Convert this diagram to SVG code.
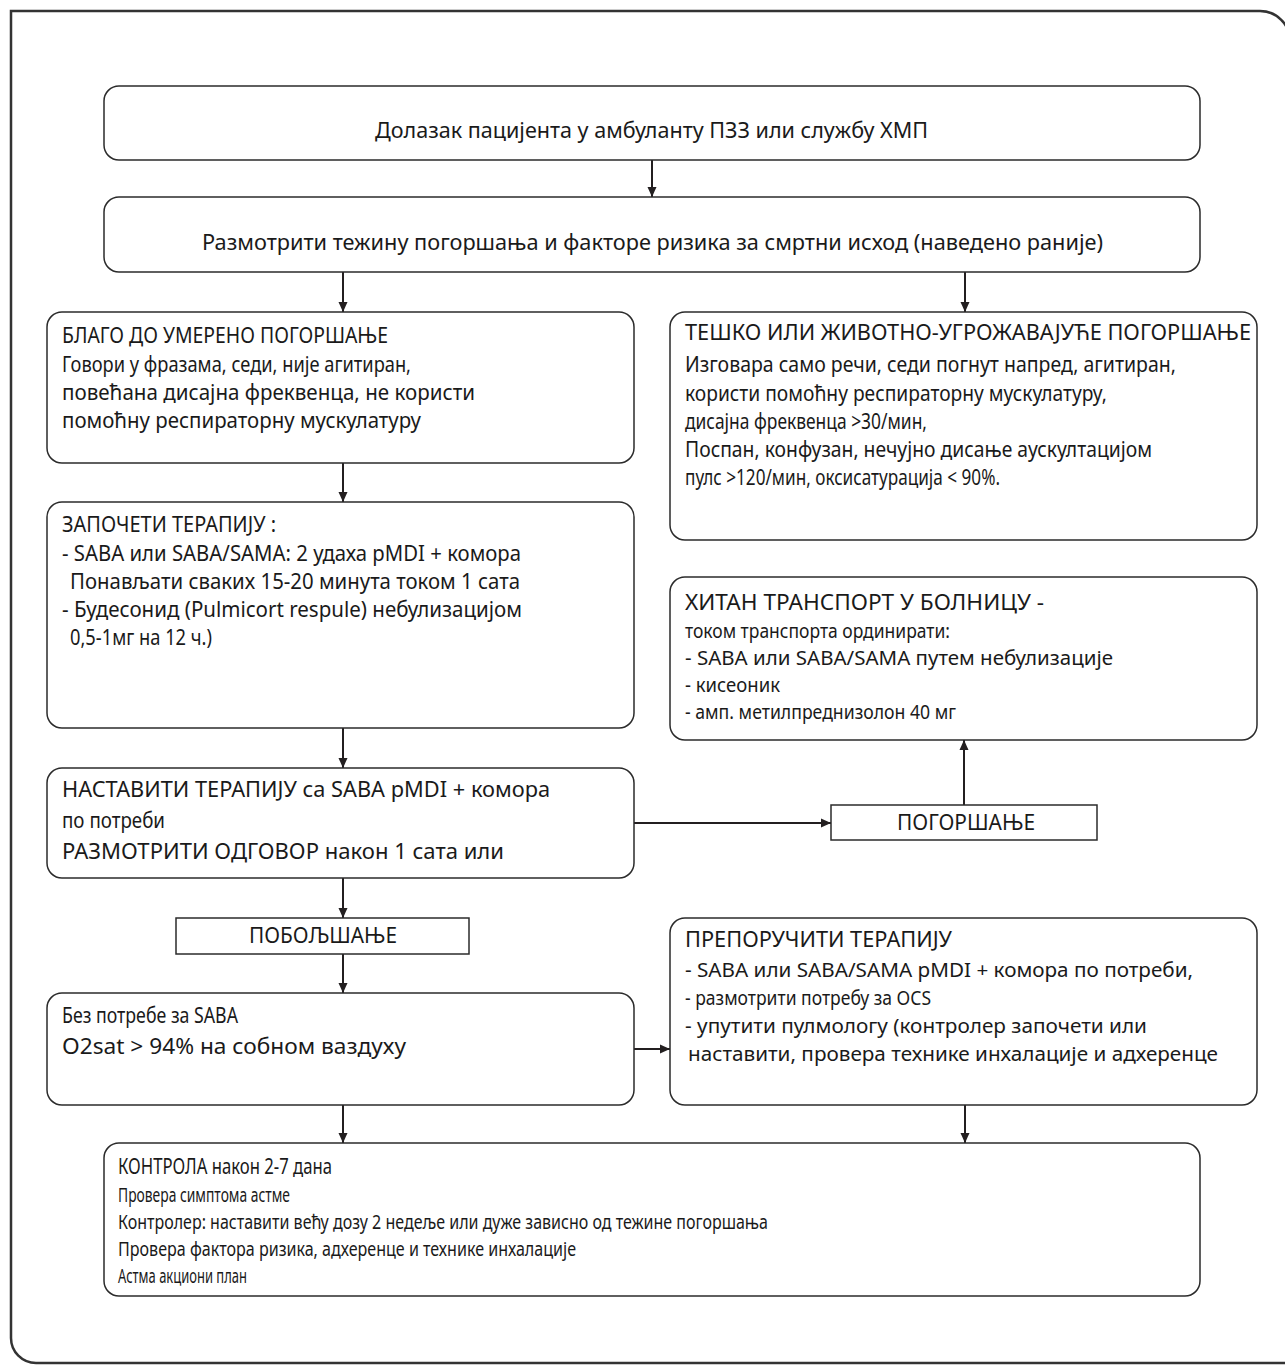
<svg xmlns="http://www.w3.org/2000/svg" width="1285" height="1365" viewBox="0 0 1285 1365">
  <style>
    .frame { fill: none; stroke: #333; stroke-width: 2.5; }
    .box { fill: #fff; stroke: #2b2b2b; stroke-width: 1.5; }
    .tag { fill: #fff; stroke: #2b2b2b; stroke-width: 1.5; }
    .t { font-family: "Noto Sans", "Open Sans", sans-serif; font-size: 22px; fill: #1a1a1a; }
    .s { font-family: "Noto Sans", "Open Sans", sans-serif; font-size: 20px; fill: #1a1a1a; }
    .edge { fill: none; stroke: #231f20; stroke-width: 2; }
  </style>
  <defs>
    <marker id="arrow" viewBox="0 0 10 10" refX="10" refY="5" markerWidth="10" markerHeight="10" markerUnits="userSpaceOnUse" orient="auto">
      <path d="M0,0.5 L10,5 L0,9.5 Z" fill="#231f20"/>
    </marker>
  </defs>
  <rect width="1285" height="1365" fill="#fff"/>

  <!-- outer frame -->
  <path class="frame" d="M1260,11 H11 V1338 A25,25 0 0 0 36,1363 H1290 M1260,11 A30,30 0 0 1 1290,41"/>

  <!-- connectors -->
  <g id="connectors">
    <path class="edge" d="M652,160 V197" marker-end="url(#arrow)"/>
    <path class="edge" d="M343,272 V312" marker-end="url(#arrow)"/>
    <path class="edge" d="M965,272 V312" marker-end="url(#arrow)"/>
    <path class="edge" d="M343,463 V502" marker-end="url(#arrow)"/>
    <path class="edge" d="M343,728 V768" marker-end="url(#arrow)"/>
    <path class="edge" d="M634,823 H831" marker-end="url(#arrow)"/>
    <path class="edge" d="M964,805 V740" marker-end="url(#arrow)"/>
    <path class="edge" d="M343,878 V918" marker-end="url(#arrow)"/>
    <path class="edge" d="M343,954 V993" marker-end="url(#arrow)"/>
    <path class="edge" d="M634,1049 H670" marker-end="url(#arrow)"/>
    <path class="edge" d="M343,1105 V1143" marker-end="url(#arrow)"/>
    <path class="edge" d="M965,1105 V1143" marker-end="url(#arrow)"/>
  </g>

  <g id="arrival">
    <rect class="box" x="104" y="86" width="1096" height="74" rx="15"/>
    <text class="t" x="375" y="138" textLength="553" lengthAdjust="spacingAndGlyphs">Долазак пацијента у амбуланту ПЗЗ или службу ХМП</text>
  </g>

  <g id="assess">
    <rect class="box" x="104" y="197" width="1096" height="75" rx="15"/>
    <text class="t" x="202" y="250" textLength="901" lengthAdjust="spacingAndGlyphs">Размотрити тежину погоршања и факторе ризика за смртни исход (наведено раније)</text>
  </g>

  <g id="mild">
    <rect class="box" x="47" y="312" width="587" height="151" rx="15"/>
    <text class="t" x="62" y="343" textLength="326" lengthAdjust="spacingAndGlyphs">БЛАГО ДО УМЕРЕНО ПОГОРШАЊЕ</text>
    <text class="t" x="62" y="372" textLength="349" lengthAdjust="spacingAndGlyphs">Говори у фразама, седи, није агитиран,</text>
    <text class="t" x="62" y="400" textLength="413" lengthAdjust="spacingAndGlyphs">повећана дисајна фреквенца, не користи</text>
    <text class="t" x="62" y="428" textLength="359" lengthAdjust="spacingAndGlyphs">помоћну респираторну мускулатуру</text>
  </g>

  <g id="severe">
    <rect class="box" x="670" y="312" width="587" height="228" rx="15"/>
    <text class="t" x="685" y="340" textLength="566" lengthAdjust="spacingAndGlyphs">ТЕШКО ИЛИ ЖИВОТНО-УГРОЖАВАЈУЋЕ ПОГОРШАЊЕ</text>
    <text class="t" x="685" y="372" textLength="491" lengthAdjust="spacingAndGlyphs">Изговара само речи, седи погнут напред, агитиран,</text>
    <text class="t" x="685" y="401" textLength="422" lengthAdjust="spacingAndGlyphs">користи помоћну респираторну мускулатуру,</text>
    <text class="t" x="685" y="429" textLength="242" lengthAdjust="spacingAndGlyphs">дисајна фреквенца &gt;30/мин,</text>
    <text class="t" x="685" y="457" textLength="467" lengthAdjust="spacingAndGlyphs">Поспан, конфузан, нечујно дисање аускултацијом</text>
    <text class="t" x="685" y="485" textLength="315" lengthAdjust="spacingAndGlyphs">пулс &gt;120/мин, оксисатурација &lt; 90%.</text>
  </g>

  <g id="start-therapy">
    <rect class="box" x="47" y="502" width="587" height="226" rx="15"/>
    <text class="t" x="62" y="532" textLength="214" lengthAdjust="spacingAndGlyphs">ЗАПОЧЕТИ ТЕРАПИЈУ :</text>
    <text class="t" x="62" y="561" textLength="459" lengthAdjust="spacingAndGlyphs">- SABA или SABA/SAMA: 2 удаха pMDI + комора</text>
    <text class="t" x="70" y="589" textLength="450" lengthAdjust="spacingAndGlyphs">Понављати сваких 15-20 минута током 1 сата</text>
    <text class="t" x="62" y="617" textLength="460" lengthAdjust="spacingAndGlyphs">- Будесонид (Pulmicort respule) небулизацијом</text>
    <text class="t" x="70" y="645" textLength="142" lengthAdjust="spacingAndGlyphs">0,5-1мг на 12 ч.)</text>
  </g>

  <g id="transport">
    <rect class="box" x="670" y="577" width="587" height="163" rx="15"/>
    <text class="t" x="685" y="610" textLength="359" lengthAdjust="spacingAndGlyphs">ХИТАН ТРАНСПОРТ У БОЛНИЦУ -</text>
    <text class="s" x="685" y="638" textLength="265" lengthAdjust="spacingAndGlyphs">током транспорта ординирати:</text>
    <text class="s" x="685" y="665" textLength="428" lengthAdjust="spacingAndGlyphs">- SABA или SABA/SAMA путем небулизације</text>
    <text class="s" x="685" y="692" textLength="95" lengthAdjust="spacingAndGlyphs">- кисеоник</text>
    <text class="s" x="685" y="719" textLength="271" lengthAdjust="spacingAndGlyphs">- амп. метилпреднизолон 40 мг</text>
  </g>

  <g id="continue">
    <rect class="box" x="47" y="768" width="587" height="110" rx="15"/>
    <text class="t" x="62" y="797" textLength="488" lengthAdjust="spacingAndGlyphs">НАСТАВИТИ ТЕРАПИЈУ са SABA pMDI + комора</text>
    <text class="t" x="62" y="828" textLength="103" lengthAdjust="spacingAndGlyphs">по потреби</text>
    <text class="t" x="62" y="859" textLength="442" lengthAdjust="spacingAndGlyphs">РАЗМОТРИТИ ОДГОВОР након 1 сата или</text>
  </g>

  <g id="worse">
    <rect class="tag" x="831" y="805" width="266" height="35"/>
    <text class="t" x="897" y="830" textLength="138" lengthAdjust="spacingAndGlyphs">ПОГОРШАЊЕ</text>
  </g>

  <g id="better">
    <rect class="tag" x="176" y="918" width="293" height="36"/>
    <text class="t" x="249" y="943" textLength="148" lengthAdjust="spacingAndGlyphs">ПОБОЉШАЊЕ</text>
  </g>

  <g id="no-saba">
    <rect class="box" x="47" y="993" width="587" height="112" rx="15"/>
    <text class="t" x="62" y="1023" textLength="176" lengthAdjust="spacingAndGlyphs">Без потребе за SABA</text>
    <text class="t" x="62" y="1054" textLength="344" lengthAdjust="spacingAndGlyphs">O2sat &gt; 94% на собном ваздуху</text>
  </g>

  <g id="recommend">
    <rect class="box" x="670" y="918" width="587" height="187" rx="15"/>
    <text class="t" x="685" y="947" textLength="267" lengthAdjust="spacingAndGlyphs">ПРЕПОРУЧИТИ ТЕРАПИЈУ</text>
    <text class="s" x="685" y="977" textLength="508" lengthAdjust="spacingAndGlyphs">- SABA или SABA/SAMA pMDI + комора по потреби,</text>
    <text class="s" x="685" y="1005" textLength="246" lengthAdjust="spacingAndGlyphs">- размотрити потребу за OCS</text>
    <text class="s" x="685" y="1033" textLength="462" lengthAdjust="spacingAndGlyphs">- упутити пулмологу (контролер започети или</text>
    <text class="s" x="688" y="1061" textLength="530" lengthAdjust="spacingAndGlyphs">наставити, провера технике инхалације и адхеренце</text>
  </g>

  <g id="follow-up">
    <rect class="box" x="104" y="1143" width="1096" height="153" rx="15"/>
    <text class="t" x="118" y="1174" textLength="214" lengthAdjust="spacingAndGlyphs">КОНТРОЛА након 2-7 дана</text>
    <text class="s" x="118" y="1202" textLength="172" lengthAdjust="spacingAndGlyphs">Провера симптома астме</text>
    <text class="s" x="118" y="1229" textLength="650" lengthAdjust="spacingAndGlyphs">Контролер: наставити већу дозу 2 недеље или дуже зависно од тежине погоршања</text>
    <text class="s" x="118" y="1256" textLength="458" lengthAdjust="spacingAndGlyphs">Провера фактора ризика, адхеренце и технике инхалације</text>
    <text class="s" x="118" y="1283" textLength="129" lengthAdjust="spacingAndGlyphs">Астма акциони план</text>
  </g>
</svg>
